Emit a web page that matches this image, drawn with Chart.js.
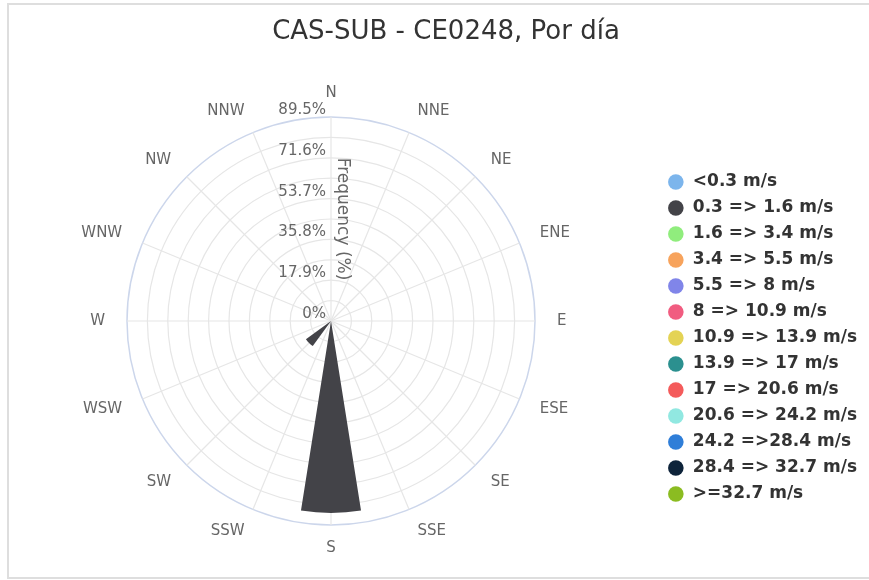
<!DOCTYPE html>
<html>
<head>
<meta charset="utf-8">
<script src="https://cdn.jsdelivr.net/npm/chart.js@4.4.0/dist/chart.umd.min.js"></script>
<style>
  html, body { margin: 0; padding: 0; background: #fff; overflow: hidden; }
  #wrap { position: relative; width: 869px; height: 580px; }
  #grafico { position: absolute; left: 0; top: 0; }
  #titulo { position: absolute; left: 0; top: 15px; width: 892px; text-align: center;
            font-family: 'DejaVu Sans'; font-size: 26px; line-height: 30px; color: #333; }
  #marco { position: absolute; left: 7px; top: 3px; width: 900px; height: 576px;
           border: 2px solid #dedede; box-sizing: border-box; pointer-events: none; }
</style>
</head>
<body>
<div id="wrap">
  <canvas id="grafico" width="869" height="580"></canvas>
  <div id="titulo">CAS-SUB - CE0248, Por día</div>
  <div id="marco"></div>
</div>
<script>
// direcciones del viento
const direcciones = ['N','NNE','NE','ENE','E','ESE','SE','SSE','S','SSW','SW','WSW','W','WNW','NW','NNW'];

// rangos de velocidad y colores
const rangos = ['<0.3 m/s','0.3 => 1.6 m/s','1.6 => 3.4 m/s','3.4 => 5.5 m/s','5.5 => 8 m/s',
  '8 => 10.9 m/s','10.9 => 13.9 m/s','13.9 => 17 m/s','17 => 20.6 m/s','20.6 => 24.2 m/s',
  '24.2 =>28.4 m/s','28.4 => 32.7 m/s','>=32.7 m/s'];
const colores = ['#7cb5ec','#434348','#90ed7d','#f7a35c','#8085e9','#f15c80','#e4d354',
  '#2b908f','#f45b5b','#91e8e1','#2f7ed8','#0d233a','#8bbc21'];

// frecuencia (%) por direccion, un array por rango (N ... NNW)
const r_0   = [0,0,0,0,0,0,0,0,0,0,0,0,0,0,0,0];
const r_0_3 = [0,0,0,0,0,0,0,0,84.2,0,13.6,0,0,0,0,0];
const r_1_6 = [0,0,0,0,0,0,0,0,0,0,0,0,0,0,0,0];
const r_3_4 = [0,0,0,0,0,0,0,0,0,0,0,0,0,0,0,0];
const r_5_5 = [0,0,0,0,0,0,0,0,0,0,0,0,0,0,0,0];
const r_8   = [0,0,0,0,0,0,0,0,0,0,0,0,0,0,0,0];
const r_10_9 = [0,0,0,0,0,0,0,0,0,0,0,0,0,0,0,0];
const r_13_9 = [0,0,0,0,0,0,0,0,0,0,0,0,0,0,0,0];
const r_17  = [0,0,0,0,0,0,0,0,0,0,0,0,0,0,0,0];
const r_20_6 = [0,0,0,0,0,0,0,0,0,0,0,0,0,0,0,0];
const r_24_2 = [0,0,0,0,0,0,0,0,0,0,0,0,0,0,0,0];
const r_28_4 = [0,0,0,0,0,0,0,0,0,0,0,0,0,0,0,0];
const r_32_7 = [0,0,0,0,0,0,0,0,0,0,0,0,0,0,0,0];

// eje radial
const maximo = 89.5;
const valoresEje = [0, 17.9, 35.8, 53.7, 71.6, 89.5];
const textosEje = ['0%','17.9%','35.8%','53.7%','71.6%','89.5%'];

Chart.defaults.font.family = 'DejaVu Sans';

const series = [r_0, r_0_3, r_1_6, r_3_4, r_5_5, r_8, r_10_9, r_13_9, r_17, r_20_6, r_24_2, r_28_4, r_32_7];

// cada direccion: un hueco y una barra (para que las barras no se toquen)
const BARRA = 18, HUECO = 4.5;
const etiquetas = [];
direcciones.forEach(d => { etiquetas.push(''); etiquetas.push(d); });
function intercalar(vals) {
  const out = [];
  vals.forEach(v => { out.push(0); out.push(v); });
  return out;
}

// apilado a mano: cada rango dibuja el acumulado, el primero queda encima
const acumulado = direcciones.map(() => 0);
const datasets = series.map((s, j) => {
  const datos = s.map((v, k) => {
    acumulado[k] += v;
    return v > 0 ? acumulado[k] : 0;
  });
  return {
    label: rangos[j],
    data: intercalar(datos),
    backgroundColor: colores[j],
    borderWidth: 0,
    angle: ctx => ctx.dataIndex === 0 ? HUECO / 2 : (ctx.dataIndex % 2 ? BARRA : HUECO)
  };
});

const ejeTexto = {
  id: 'ejeTexto',
  afterDraw(chart) {
    const r = chart.scales.r;
    const ctx = chart.ctx;
    ctx.save();
    ctx.font = '15px "DejaVu Sans"';
    ctx.fillStyle = '#666';
    ctx.textAlign = 'right';
    ctx.textBaseline = 'alphabetic';
    valoresEje.forEach((v, i) => {
      const y = r.yCenter - r.getDistanceFromCenterForValue(v);
      ctx.fillText(textosEje[i], r.xCenter - 5, y - 3);
    });
    ctx.translate(r.xCenter + 11, r.yCenter - r.drawingArea / 2);
    ctx.rotate(Math.PI / 2);
    ctx.font = '17px "DejaVu Sans"';
    ctx.textAlign = 'center';
    ctx.textBaseline = 'middle';
    ctx.fillText('Frequency (%)', 0, 0);
    ctx.restore();
  }
};

new Chart(document.getElementById('grafico'), {
  type: 'polarArea',
  data: { labels: etiquetas, datasets: datasets },
  plugins: [ejeTexto],
  options: {
    responsive: false,
    animation: false,
    layout: { padding: { left: 4, right: 2, top: 92, bottom: 30 } },
    scales: {
      r: {
        min: 0,
        max: maximo,
        startAngle: -11.25,
        ticks: { display: false, stepSize: 8.95 },
        grid: {
          circular: true,
          color: ctx => ctx.index === 10 ? '#ccd6eb' : '#e6e6e6',
          lineWidth: ctx => ctx.index === 10 ? 1.5 : 1.2
        },
        angleLines: {
          display: true,
          color: ctx => ctx.index % 2 ? '#e6e6e6' : 'rgba(0,0,0,0)',
          lineWidth: 1.2
        },
        pointLabels: {
          display: true,
          centerPointLabels: false,
          color: '#666',
          font: { size: 15, lineHeight: 0.2 },
          padding: ctx => ctx.index % 2 ? 22 : 0
        }
      }
    },
    plugins: {
      tooltip: { enabled: false },
      legend: {
        position: 'right',
        title: { display: true, text: '', font: { size: 12 }, padding: { top: 19.6, bottom: 0 } },
        labels: {
          usePointStyle: true,
          pointStyle: 'circle',
          boxHeight: 11,
          padding: 9,
          color: '#333',
          font: { size: 17, weight: 'bold' },
          generateLabels: () => rangos.map((t, i) => ({
            text: t,
            fillStyle: colores[i],
            strokeStyle: colores[i],
            lineWidth: 0,
            pointStyle: 'circle',
            hidden: false,
            datasetIndex: i,
            fontColor: '#333'
          }))
        }
      }
    }
  }
});
</script>
</body>
</html>
